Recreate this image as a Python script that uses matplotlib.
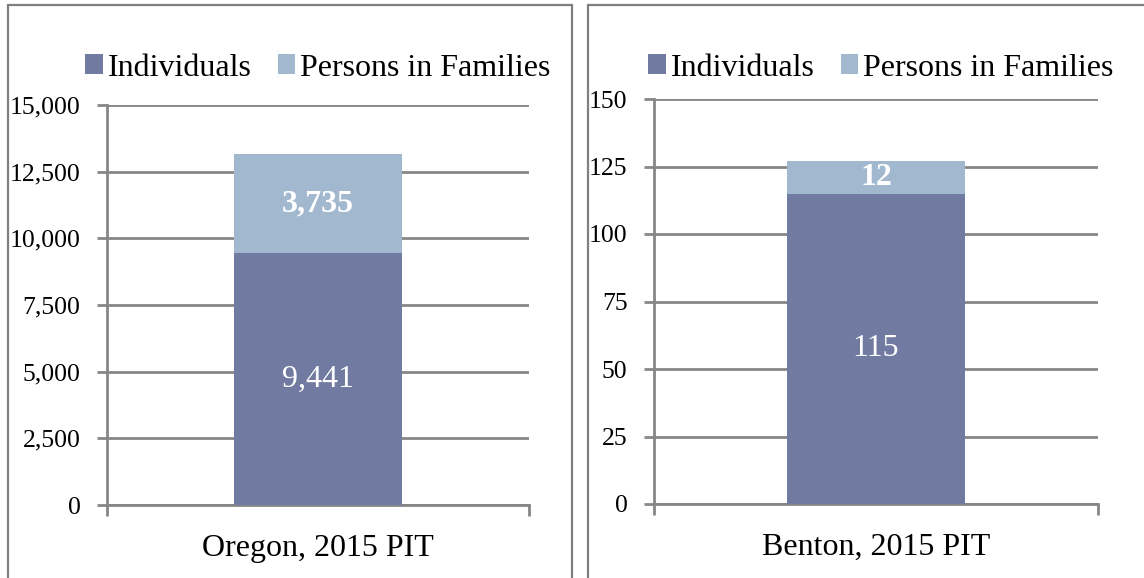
import matplotlib
matplotlib.use("Agg")
import matplotlib.pyplot as plt
from matplotlib.patches import Rectangle, Patch
from matplotlib.ticker import FuncFormatter

plt.rcParams['font.family'] = ['Liberation Serif', 'DejaVu Serif']

series_names = ["Individuals", "Persons in Families"]
colors = ["#717AA0", "#A1B8CF"]

panels = [
    {"category": "Oregon, 2015 PIT", "individuals": 9441, "families": 3735,
     "yticks": [0, 2500, 5000, 7500, 10000, 12500, 15000]},
    {"category": "Benton, 2015 PIT", "individuals": 115, "families": 12,
     "yticks": [0, 25, 50, 75, 100, 125, 150]},
]

W, H = 1144, 578
fig = plt.figure(figsize=(W / 100, H / 100), dpi=100)

grey = "#868686"

def px_rect(x0, y0, x1, y1):
    return Rectangle((x0 / W, 1 - y1 / H), (x1 - x0) / W, (y1 - y0) / H,
                     transform=fig.transFigure, fill=False, edgecolor="#7F7F7F",
                     linewidth=1.6, clip_on=False)

fig.patches.append(px_rect(8, 5, 572, 600))
fig.patches.append(px_rect(588, 5, 1160, 600))

axes_px = [(107, 105, 529, 505), (654, 99, 1098, 504)]
legend_centers = [318, 881]

for p, (x0, y0, x1, y1), lc in zip(panels, axes_px, legend_centers):
    ax = fig.add_axes([x0 / W, 1 - y1 / H, (x1 - x0) / W, (y1 - y0) / H])
    ind, fam = p["individuals"], p["families"]
    ax.bar([0], [ind], width=0.40, color=colors[0], zorder=3)
    ax.bar([0], [fam], bottom=[ind], width=0.40, color=colors[1], zorder=3)
    ax.set_xlim(-0.5, 0.5)
    ax.set_ylim(p["yticks"][0], p["yticks"][-1])
    ax.set_yticks(p["yticks"])
    ax.yaxis.set_major_formatter(FuncFormatter(lambda v, pos: f"{int(v):,}"))
    ax.grid(axis="y", color=grey, linewidth=2.0, zorder=0)
    ax.set_axisbelow(True)
    for s in ["top", "right"]:
        ax.spines[s].set_visible(False)
    for s in ["left", "bottom"]:
        ax.spines[s].set_color(grey)
        ax.spines[s].set_linewidth(2.0)
    ax.tick_params(axis="y", length=7, width=2.0, color=grey, labelsize=18.5, pad=12)
    ax.set_xticks([0])
    ax.set_xticklabels([p["category"]])
    ax.tick_params(axis="x", which="major", length=0, labelsize=23, pad=21)
    ax.set_xticks([-0.5, 0.5], minor=True)
    ax.tick_params(axis="x", which="minor", length=8, width=2.0, color=grey)
    ax.text(0, ind / 2, f"{ind:,}", ha="center", va="center", color="white",
            fontsize=23, zorder=4)
    ax.text(0, ind + fam / 2, f"{fam:,}", ha="center", va="center", color="white",
            fontsize=23, fontweight="bold", zorder=4)
    handles = [Patch(facecolor=c, edgecolor="none") for c in colors]
    ax.legend(handles, series_names, loc="center",
              bbox_to_anchor=((lc - x0) / (x1 - x0), 1 + (y0 - 68) / (y1 - y0)),
              ncol=2, frameon=False, fontsize=23, handlelength=0.56, handleheight=0.56,
              handletextpad=0.15, columnspacing=0.8, borderaxespad=0, borderpad=0)

fig.savefig("out.png", dpi=100)
